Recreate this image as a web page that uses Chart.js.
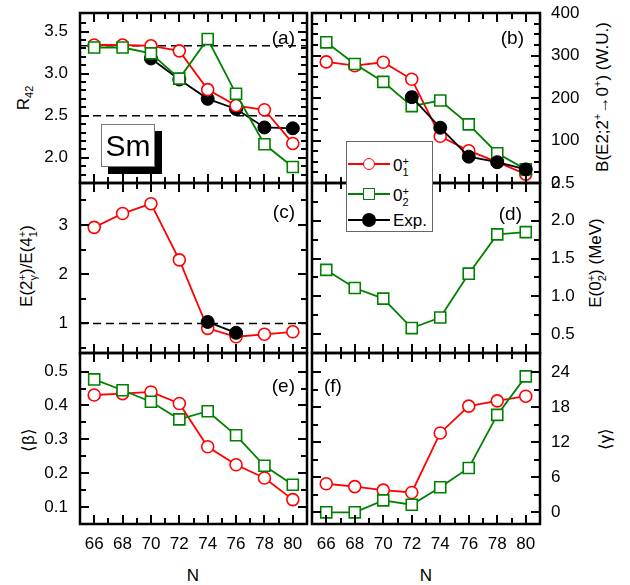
<!DOCTYPE html>
<html>
<head>
<meta charset="utf-8">
<script src="https://cdn.jsdelivr.net/npm/chart.js@4.4.1/dist/chart.umd.min.js"></script>
<style>
  body { margin: 0; background: #fff; font-family: "Liberation Sans", Arial, sans-serif; color: #000; }
  #wrap { position: relative; width: 630px; height: 585px; overflow: hidden; }
  .cv { position: absolute; }
  .t { position: absolute; white-space: nowrap; font-size: 17px; line-height: 1; }
  .vt { position: absolute; white-space: nowrap; font-size: 17px; line-height: 1; transform: translate(-50%, -50%) rotate(-90deg); }
  .ss { display: inline-block; vertical-align: -5px; font-size: 11px; line-height: 11px; text-align: left; }
  .ss span { display: block; }
  .sup { font-size: 11px; vertical-align: 7px; }
  .sub { font-size: 11px; vertical-align: -4px; }
  .plab { position: absolute; font-size: 19px; line-height: 1; white-space: nowrap; }
  #sm { position: absolute; left: 101px; top: 124px; width: 54px; height: 43px; box-sizing: border-box;
        border: 1px solid #777; background: #fff; box-shadow: 7px 7px 0 #000;
        font-size: 30px; line-height: 41px; text-align: center; }
  #legend { position: absolute; left: 346px; top: 141px; width: 87px; height: 91px; box-sizing: border-box;
            border: 1px solid #666; background: #fff; }
  .row { position: absolute; left: 0; width: 85px; height: 24px; }
  .row .ln { position: absolute; left: 1px; top: 11px; width: 42px; height: 2px; }
  .row .mk { position: absolute; box-sizing: border-box; }
  .row .tx { position: absolute; left: 46px; top: 4px; font-size: 17px; line-height: 1; white-space: nowrap; }
</style>
</head>
<body>
<div id="wrap">
  <div class="vt" style="left:25px;top:98px">R<span class="sub">42</span></div>
  <div class="vt" style="left:28px;top:266px">E(2<span class="ss"><span>+</span><span>γ</span></span>)/E(4<span class="ss"><span>+</span><span>1</span></span>)</div>
  <div class="vt" style="left:28px;top:440px">⟨β⟩</div>
  <div class="vt" style="left:601px;top:97px">B(E2;2<span class="sup">+</span>→0<span class="sup">+</span>) (W.U.)</div>
  <div class="vt" style="left:597px;top:263px">E(0<span class="ss"><span>+</span><span>2</span></span>) (MeV)</div>
  <div class="vt" style="left:605px;top:439px">⟨γ⟩</div>
  <div class="t" style="left:193px;top:575px;transform:translate(-50%,-50%)">N</div>
  <div class="t" style="left:426px;top:575px;transform:translate(-50%,-50%)">N</div>
</div>

<script>
// ---- data ----
const N = [66, 68, 70, 72, 74, 76, 78, 80];
const xMajor = [66, 68, 70, 72, 74, 76, 78, 80];
const xMinor = [67, 69, 71, 73, 75, 77, 79];

// (a) R42
const r42_01 = [3.34, 3.34, 3.33, 3.27, 2.81, 2.62, 2.57, 2.17];
const r42_02 = [3.31, 3.31, 3.24, 2.94, 3.41, 2.76, 2.16, 1.89];
const r42_exp = [null, null, 3.18, 2.93, 2.70, 2.58, 2.36, 2.35];
const r42_ref = [3.33, 2.5];
const aTicks = [2.0, 2.5, 3.0, 3.5];

// (b) B(E2) W.U.
const be2_01 = [285, 276, 284, 244, 110, 76, 49, 21];
const be2_02 = [331, 280, 238, 181, 194, 138, 70, 32];
const be2_exp = [null, null, null, 202, 130, 62, 49, 32];
const be2_err = [null, null, null, 12, null, null, null, null];
const bTicks = [0, 100, 200, 300, 400];

// (c) E(2g)/E(4_1)
const rg_01 = [2.95, 3.23, 3.43, 2.29, 0.90, 0.73, 0.78, 0.83];
const rg_exp = [null, null, null, null, 1.03, 0.81, null, null];
const rg_ref = [1];
const cTicks = [1, 2, 3];

// (d) E(0_2) MeV
const e02 = [1.35, 1.11, 0.97, 0.58, 0.72, 1.30, 1.82, 1.85];
const dTicks = [0.5, 1.0, 1.5, 2.0, 2.5];

// (e) <beta>
const beta_01 = [0.431, 0.435, 0.440, 0.406, 0.278, 0.225, 0.186, 0.122];
const beta_02 = [0.477, 0.445, 0.411, 0.359, 0.383, 0.312, 0.222, 0.166];
const eTicks = [0.1, 0.2, 0.3, 0.4, 0.5];

// (f) <gamma>
const gam_01 = [4.9, 4.4, 3.8, 3.4, 13.6, 18.2, 19.1, 19.9];
const gam_02 = [0, 0, 2.05, 1.3, 4.3, 7.6, 16.7, 23.3];
const fTicks = [0, 6, 12, 18, 24];

// ---- helpers ----
const FONT = '"Liberation Sans", Arial, sans-serif';
const RED = '#ff0000', GREEN = '#008000';
const xy = vals => N.map((n, i) => ({ x: n, y: vals[i] }));

const red = vals => ({ data: xy(vals), borderColor: RED, backgroundColor: '#fff', pointStyle: 'circle',
  pointRadius: 6, pointBorderWidth: 1.6, borderWidth: 1.8 });
const green = vals => ({ data: xy(vals), borderColor: GREEN, backgroundColor: '#fff', pointStyle: 'rect',
  pointRadius: 7.8, pointBorderWidth: 1.6, borderWidth: 1.8 });
const exp = (vals, errs) => ({ data: xy(vals), errors: errs, borderColor: '#000', backgroundColor: '#000',
  pointStyle: 'circle', pointRadius: 6.5, pointBorderWidth: 1, borderWidth: 1.8 });
const dash = v => ({ data: [{ x: 65, y: v }, { x: 81, y: v }], borderColor: '#000', borderDash: [8, 5],
  borderWidth: 1.5, pointRadius: 0 });

function minorList(min, max, step, majors) {
  const out = [];
  for (let v = Math.ceil(min / step - 1e-9) * step; v <= max + 1e-9; v += step) {
    if (!majors.some(m => Math.abs(m - v) < step / 10)) out.push(v);
  }
  return out;
}

// inward ticks on all four sides + frame
function framePlugin(yMajor, yMinor) {
  return {
    id: 'frame',
    afterDatasetsDraw(chart) {
      const { ctx, chartArea: a, scales } = chart;
      ctx.save();
      ctx.strokeStyle = '#000';
      ctx.lineWidth = 2;
      const tx = (vals, len) => vals.forEach(v => {
        const p = Math.round(scales.x.getPixelForValue(v));
        if (p <= a.left + 2 || p >= a.right - 2) return;
        ctx.beginPath();
        ctx.moveTo(p, a.top); ctx.lineTo(p, a.top + len);
        ctx.moveTo(p, a.bottom); ctx.lineTo(p, a.bottom - len);
        ctx.stroke();
      });
      const ty = (vals, len) => vals.forEach(v => {
        const p = Math.round(scales.y.getPixelForValue(v));
        if (p <= a.top + 2 || p >= a.bottom - 2) return;
        ctx.beginPath();
        ctx.moveTo(a.left, p); ctx.lineTo(a.left + len, p);
        ctx.moveTo(a.right, p); ctx.lineTo(a.right - len, p);
        ctx.stroke();
      });
      tx(xMajor, 9); tx(xMinor, 6);
      ty(yMajor, 9); ty(yMinor, 6);
      ctx.lineWidth = 2.5;
      ctx.strokeRect(a.left, a.top, a.width, a.height);
      ctx.restore();
    }
  };
}

const errPlugin = {
  id: 'errbars',
  afterDatasetsDraw(chart) {
    const { ctx, scales } = chart;
    chart.data.datasets.forEach(ds => {
      if (!ds.errors) return;
      ctx.save();
      ctx.strokeStyle = ds.borderColor;
      ctx.lineWidth = 1.5;
      ds.data.forEach((d, i) => {
        const e = ds.errors[i];
        if (e == null || d.y == null) return;
        const px = scales.x.getPixelForValue(d.x);
        const y1 = scales.y.getPixelForValue(d.y - e), y2 = scales.y.getPixelForValue(d.y + e);
        ctx.beginPath();
        ctx.moveTo(px, y1); ctx.lineTo(px, y2);
        ctx.moveTo(px - 4, y1); ctx.lineTo(px + 4, y1);
        ctx.moveTo(px - 4, y2); ctx.lineTo(px + 4, y2);
        ctx.stroke();
      });
      ctx.restore();
    });
  }
};

function makePanel(p) {
  const c = document.createElement('canvas');
  c.className = 'cv';
  c.width = p.w; c.height = p.h;
  c.style.left = p.left + 'px'; c.style.top = p.top + 'px';
  c.style.width = p.w + 'px'; c.style.height = p.h + 'px';
  document.getElementById('wrap').appendChild(c);
  const yMinor = minorList(p.yMin, p.yMax, p.minorStep, p.yMajor);
  new Chart(c, {
    type: 'line',
    data: { datasets: p.datasets },
    options: {
      responsive: false,
      animation: false,
      devicePixelRatio: 1,
      layout: { padding: p.pad, autoPadding: false },
      plugins: { legend: { display: false }, tooltip: { enabled: false } },
      scales: {
        x: {
          type: 'linear', min: 65, max: 81, display: p.bottom,
          grid: { display: false, drawTicks: false }, border: { display: false },
          afterBuildTicks: s => { s.ticks = xMajor.map(v => ({ value: v })); },
          afterFit: s => { s.height = p.bottom ? 61 : 0; s.paddingLeft = 0; s.paddingRight = 0; },
          ticks: { autoSkip: false, maxRotation: 0, padding: 10, color: '#000',
                   font: { family: FONT, size: 17 } }
        },
        y: {
          type: 'linear', position: p.yPos, min: p.yMin, max: p.yMax,
          grid: { display: false, drawTicks: false }, border: { display: false },
          afterBuildTicks: s => { s.ticks = p.yMajor.map(v => ({ value: v })); },
          afterFit: s => { s.width = p.yPos === 'left' ? 80 : 90; s.paddingTop = 0; s.paddingBottom = 0; },
          ticks: { padding: p.yPos === 'left' ? 12 : 11, color: '#000', font: { family: FONT, size: 17 },
                   callback: v => v.toFixed(p.dec) }
        }
      }
    },
    plugins: [framePlugin(p.yMajor, yMinor), errPlugin]
  });
}

const L = { left: 0, w: 312, yPos: 'left' };
const R = { left: 310, w: 320, yPos: 'right' };
const padL = (t, b) => ({ top: t, bottom: b, left: 0, right: 5 });
const padR = (t, b) => ({ top: t, bottom: b, left: 2, right: 0 });

// (a)
makePanel({ ...L, top: 0, h: 200, pad: padL(13, 17), bottom: false,
  yMin: 1.7, yMax: 3.72, yMajor: aTicks, minorStep: 0.1, dec: 1,
  datasets: [green(r42_02), red(r42_01), exp(r42_exp), dash(r42_ref[0]), dash(r42_ref[1])] });
// (b)
makePanel({ ...R, top: 0, h: 200, pad: padR(13, 17), bottom: false,
  yMin: 0, yMax: 400, yMajor: bTicks, minorStep: 25, dec: 0,
  datasets: [exp(be2_exp, be2_err), green(be2_02), red(be2_01)] });
// (c)
makePanel({ ...L, top: 170, h: 200, pad: padL(13, 17), bottom: false,
  yMin: 0.4, yMax: 3.85, yMajor: cTicks, minorStep: 0.5, dec: 0,
  datasets: [exp(rg_exp), red(rg_01), dash(rg_ref[0])] });
// (d)
makePanel({ ...R, top: 170, h: 200, pad: padR(13, 17), bottom: false,
  yMin: 0.25, yMax: 2.5, yMajor: dTicks, minorStep: 0.25, dec: 1,
  datasets: [green(e02)] });
// (e)
makePanel({ ...L, top: 340, h: 245, pad: padL(13, 0), bottom: true,
  yMin: 0.05, yMax: 0.555, yMajor: eTicks, minorStep: 0.05, dec: 1,
  datasets: [green(beta_02), red(beta_01)] });
// (f)
makePanel({ ...R, top: 340, h: 245, pad: padR(13, 0), bottom: true,
  yMin: -2, yMax: 27.3, yMajor: fTicks, minorStep: 3, dec: 0,
  datasets: [green(gam_02), red(gam_01)] });

// overlays drawn after the canvases
const wrap = document.getElementById('wrap');
wrap.insertAdjacentHTML('beforeend', `
  <div class="plab" style="left:295px;top:37px;transform:translate(-100%,-50%)">(a)</div>
  <div class="plab" style="left:524px;top:37px;transform:translate(-100%,-50%)">(b)</div>
  <div class="plab" style="left:295px;top:211px;transform:translate(-100%,-50%)">(c)</div>
  <div class="plab" style="left:522px;top:213px;transform:translate(-100%,-50%)">(d)</div>
  <div class="plab" style="left:295px;top:385px;transform:translate(-100%,-50%)">(e)</div>
  <div class="plab" style="left:324px;top:385px;transform:translate(0,-50%)">(f)</div>
  <div id="sm">Sm</div>
  <div id="legend">
    <div class="row" style="top:10px">
      <div class="ln" style="background:${RED}"></div>
      <div class="mk" style="left:16px;top:6px;width:12px;height:12px;border:1.6px solid ${RED};border-radius:50%;background:#fff"></div>
      <div class="tx">0<span class="ss"><span>+</span><span>1</span></span></div>
    </div>
    <div class="row" style="top:40px">
      <div class="ln" style="background:${GREEN}"></div>
      <div class="mk" style="left:16px;top:6px;width:12px;height:12px;border:1.6px solid ${GREEN};background:#fff"></div>
      <div class="tx">0<span class="ss"><span>+</span><span>2</span></span></div>
    </div>
    <div class="row" style="top:66px">
      <div class="ln" style="background:#000"></div>
      <div class="mk" style="left:15px;top:5px;width:14px;height:14px;border-radius:50%;background:#000"></div>
      <div class="tx">Exp.</div>
    </div>
  </div>
`);
</script>
</body>
</html>
